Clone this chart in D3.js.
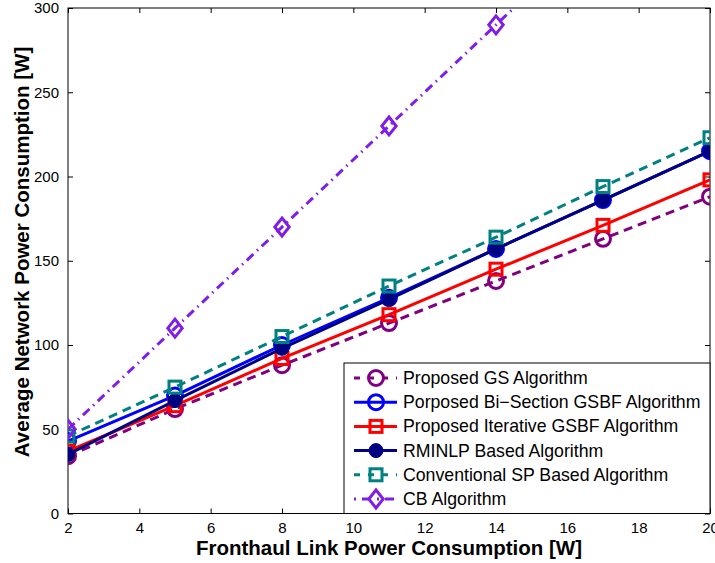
<!DOCTYPE html>
<html><head><meta charset="utf-8">
<script src="https://cdn.jsdelivr.net/npm/d3@7"></script>
<style>body{margin:0;background:#fff}</style>
</head><body>
<svg id="c" width="715" height="563"></svg>
<script>
const xValues = [2, 5, 8, 11, 14, 17, 20];
const gsValues = [34, 62, 88, 113, 138, 163, 188];
const biSectionValues = [43, 70, 100, 128, 157, 186, 215];
const iterativeValues = [37, 64, 92, 118, 145, 171, 198];
const rminlpValues = [35, 67, 98, 127, 157, 186, 215];
const conventionalValues = [46, 75, 105, 135, 164, 194, 223];
const cbValues = [50, 110, 170, 230, 290, 350, 410];
const xTicks = [2, 4, 6, 8, 10, 12, 14, 16, 18, 20];
const yTicks = [0, 50, 100, 150, 200, 250, 300];
const seriesNames = ["Proposed GS Algorithm", "Porposed Bi\u2212Section GSBF Algorithm", "Proposed Iterative GSBF Algorithm", "RMINLP Based Algorithm", "Conventional SP Based Algorithm", "CB Algorithm"];

const series = [
  {name: seriesNames[0], values: gsValues, color: "#800080", dash: "9,6", marker: "circle", fill: "none"},
  {name: seriesNames[1], values: biSectionValues, color: "#0000ff", dash: null, marker: "circle", fill: "none"},
  {name: seriesNames[2], values: iterativeValues, color: "#ff0000", dash: null, marker: "square", fill: "none"},
  {name: seriesNames[3], values: rminlpValues, color: "#000080", dash: null, marker: "dot", fill: "#000080"},
  {name: seriesNames[4], values: conventionalValues, color: "#008080", dash: "9,6", marker: "square", fill: "none"},
  {name: seriesNames[5], values: cbValues, color: "#7f1fe6", dash: "9,5,1.5,5", marker: "diamond", fill: "none"}
];

const svg = d3.select("#c");
const L = 68, R = 710, T = 8, B = 513.5;
const x = d3.scaleLinear().domain([2, 20]).range([L, R]);
const y = d3.scaleLinear().domain([0, 300]).range([B, T]);
const font = "Liberation Sans, Arial, Helvetica, sans-serif";

svg.append("defs").append("clipPath").attr("id", "clip")
  .append("rect").attr("x", L).attr("y", T).attr("width", R - L).attr("height", B - T);

// axes
const xAxisB = d3.axisBottom(x).tickValues(xTicks).tickSizeInner(-5).tickSizeOuter(0).tickPadding(9);
const xAxisT = d3.axisTop(x).tickValues(xTicks).tickSizeInner(-5).tickSizeOuter(0).tickFormat("");
const yAxisL = d3.axisLeft(y).tickValues(yTicks).tickSizeInner(-5).tickSizeOuter(0).tickPadding(9);
const yAxisR = d3.axisRight(y).tickValues(yTicks).tickSizeInner(-5).tickSizeOuter(0).tickFormat("");

function style(g) {
  g.select(".domain").remove();
  g.selectAll("line").attr("stroke", "#000").attr("stroke-width", 1);
  g.selectAll("text").attr("font-family", font).attr("font-size", 15).attr("fill", "#000");
}
svg.append("g").attr("transform", `translate(0,${B})`).call(xAxisB).call(style);
svg.append("g").attr("transform", `translate(0,${T})`).call(xAxisT).call(style);
svg.append("g").attr("transform", `translate(${L},0)`).call(yAxisL).call(style);
svg.append("g").attr("transform", `translate(${R},0)`).call(yAxisR).call(style);

svg.append("rect").attr("x", L).attr("y", T).attr("width", R - L).attr("height", B - T)
  .attr("fill", "none").attr("stroke", "#000").attr("stroke-width", 1);

// titles
svg.append("text").attr("x", 389).attr("y", 555).attr("text-anchor", "middle")
  .attr("font-family", font).attr("font-weight", "bold").attr("font-size", 20.5)
  .text("Fronthaul Link Power Consumption [W]");
svg.append("text").attr("transform", `translate(29,252) rotate(-90)`).attr("text-anchor", "middle")
  .attr("font-family", font).attr("font-weight", "bold").attr("font-size", 20.5)
  .text("Average Network Power Consumption [W]");

function drawMarker(g, type, cx, cy, s) {
  if (type === "circle") {
    g.append("circle").attr("cx", cx).attr("cy", cy).attr("r", 7.5).attr("fill", "none")
      .attr("stroke", s.color).attr("stroke-width", 3);
  } else if (type === "dot") {
    g.append("circle").attr("cx", cx).attr("cy", cy).attr("r", 7).attr("fill", s.color)
      .attr("stroke", s.color).attr("stroke-width", 1);
  } else if (type === "square") {
    g.append("rect").attr("x", cx - 6).attr("y", cy - 6).attr("width", 12).attr("height", 12)
      .attr("fill", "none").attr("stroke", s.color).attr("stroke-width", 3);
  } else if (type === "diamond") {
    const d = 9;
    g.append("path").attr("d", `M${cx},${cy - d}L${cx + d * 0.8},${cy}L${cx},${cy + d}L${cx - d * 0.8},${cy}Z`)
      .attr("fill", "none").attr("stroke", s.color).attr("stroke-width", 3);
  }
}

const plot = svg.append("g").attr("clip-path", "url(#clip)");
const line = d3.line().x((d, i) => x(xValues[i])).y(d => y(d));
series.forEach(s => {
  plot.append("path").datum(s.values).attr("d", line).attr("fill", "none")
    .attr("stroke", s.color).attr("stroke-width", 3)
    .attr("stroke-dasharray", s.dash);
  s.values.forEach((v, i) => drawMarker(plot, s.marker, x(xValues[i]), y(v), s));
});

// legend
const lg = svg.append("g");
const lx = 344, ly = 363, lw = R - lx, lh = B - ly;
lg.append("rect").attr("x", lx).attr("y", ly).attr("width", lw).attr("height", lh)
  .attr("fill", "#fff").attr("stroke", "#000").attr("stroke-width", 1);
series.forEach((s, i) => {
  const yy = ly + 15 + i * 24.2;
  lg.append("line").attr("x1", lx + 10).attr("x2", lx + 53).attr("y1", yy).attr("y2", yy)
    .attr("stroke", s.color).attr("stroke-width", 3).attr("stroke-dasharray", s.dash ? (s.dash === "9,6" ? "6,8" : "2,6,9,6") : null);
  drawMarker(lg, s.marker, lx + 32, yy, s);
  lg.append("text").attr("x", lx + 59).attr("y", yy + 6).attr("font-family", font).attr("font-size", 17.7)
    .attr("fill", "#000").text(s.name);
});
</script>
</body></html>
